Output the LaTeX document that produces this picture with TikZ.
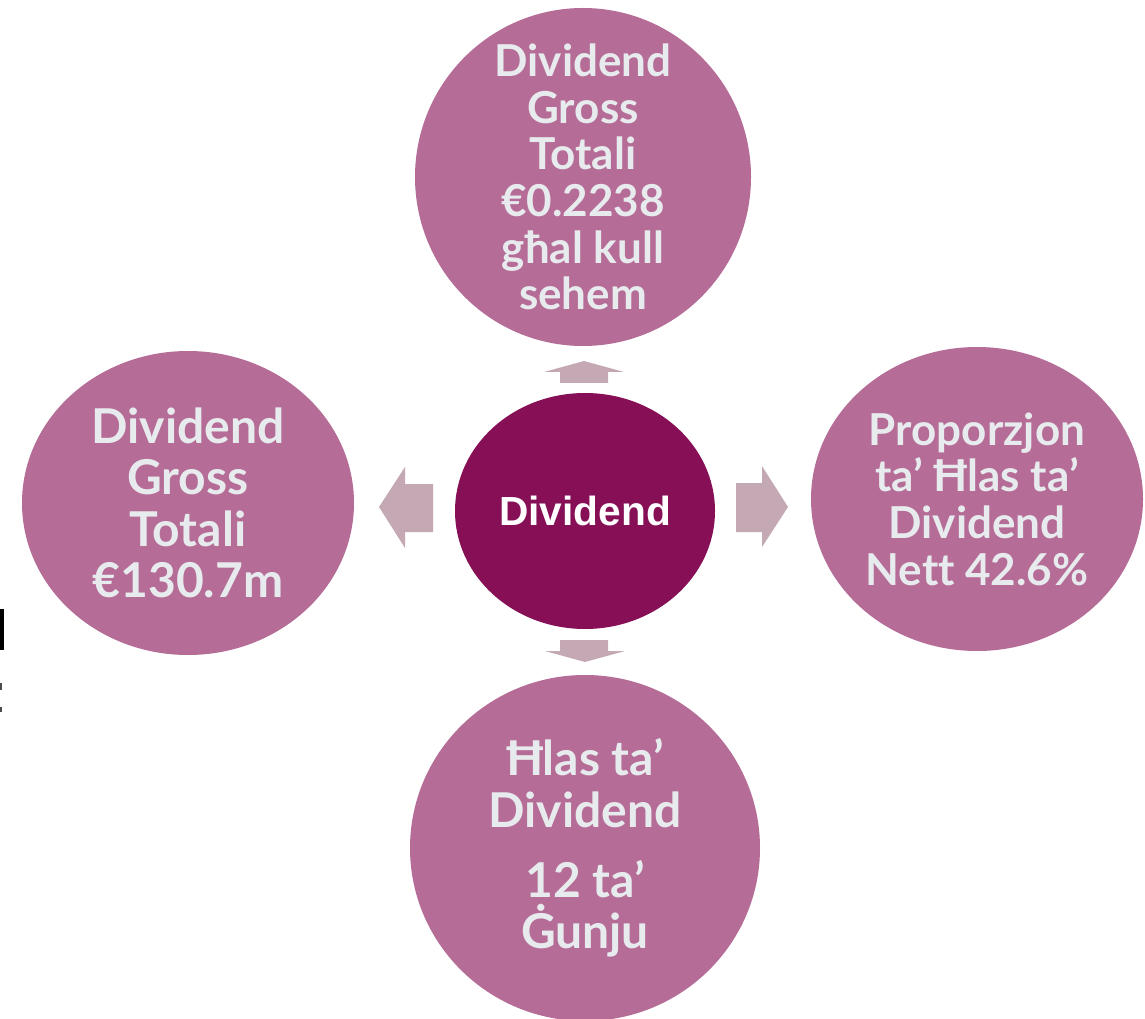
\documentclass[tikz,border=0pt]{standalone}
\usepackage{fontspec}
\usetikzlibrary{shapes.geometric}
\newfontfamily\latofont{Lato}[Ligatures=NoCommon]
\newfontfamily\arialfont{Liberation Sans}
\definecolor{bubblefill}{HTML}{B56D97}
\definecolor{hubfill}{HTML}{860F56}
\definecolor{pointerfill}{HTML}{C4A9B4}
\definecolor{bubbletext}{HTML}{E8EBEE}

\begin{document}
\begin{tikzpicture}[x=0.75pt,y=-0.75pt,
        bubble/.style={ellipse,fill=bubblefill,inner sep=0pt},
        bubbletxt/.style={align=center,text=bubbletext,inner sep=0pt,
            font=\latofont\bfseries\fontsize{33}{35}\selectfont},
        bigtxt/.style={bubbletxt,font=\latofont\bfseries\fontsize{36}{38.5}\selectfont},
        pointer/.style={fill=pointerfill}]
        \useasboundingbox (0,0) rectangle (1145,1019);
        % hub and the four bubbles
        \node[ellipse,fill=hubfill,inner sep=0pt,minimum width=195pt,minimum height=177pt,
            label={[text=white,inner sep=0pt,font=\arialfont\bfseries\fontsize{30.5}{34}\selectfont]center:Dividend}]
            (hub) at (585,511) {};
        \node[bubble,minimum width=252pt,minimum height=253.5pt,
            label={[bubbletxt]center:Dividend\\Gross\\Totali\\€0.2238\\għal kull\\sehem}]
            (pershare) at (583,177) {};
        \node[bubble,minimum width=249pt,minimum height=228pt,
            label={[bigtxt]center:Dividend\\Gross\\Totali\\€130.7m}]
            (total) at (188,503) {};
        \node[bubble,minimum width=249pt,minimum height=228pt,
            label={[bubbletxt]center:Proporzjon\\ta’ Ħlas ta’\\Dividend\\Nett 42.6\%}]
            (payout) at (977,499) {};
        \node[bubble,minimum width=262.5pt,minimum height=259.5pt,
            label={[bigtxt]center:Ħlas ta’\\Dividend\\[14pt]12 ta’\\Ġunju}]
            (paydate) at (585,848) {};
        % block arrows
        \fill[pointer] (433,484) -- (405,484) -- (405,467) -- (379,507) -- (405,548) -- (405,532) -- (433,532) -- cycle;
        \fill[pointer] (736,483) -- (762,483) -- (762,466) -- (788,507) -- (762,547) -- (762,532) -- (736,532) -- cycle;
        \fill[pointer] (560,383) -- (560,372) -- (544,372) -- (584,361) -- (624,372) -- (608,372) -- (608,383) -- cycle;
        \fill[pointer] (560,640) -- (608,640) -- (608,651) -- (625,651) -- (585,662) -- (545,651) -- (560,651) -- cycle;
        % cut-off marks at the left edge
        \fill[black] (0,609) rectangle (4,650);
        \fill[black!70] (0,683) rectangle (2,690);
        \fill[black!70] (0,707) rectangle (2,712);
\end{tikzpicture}
\end{document}
